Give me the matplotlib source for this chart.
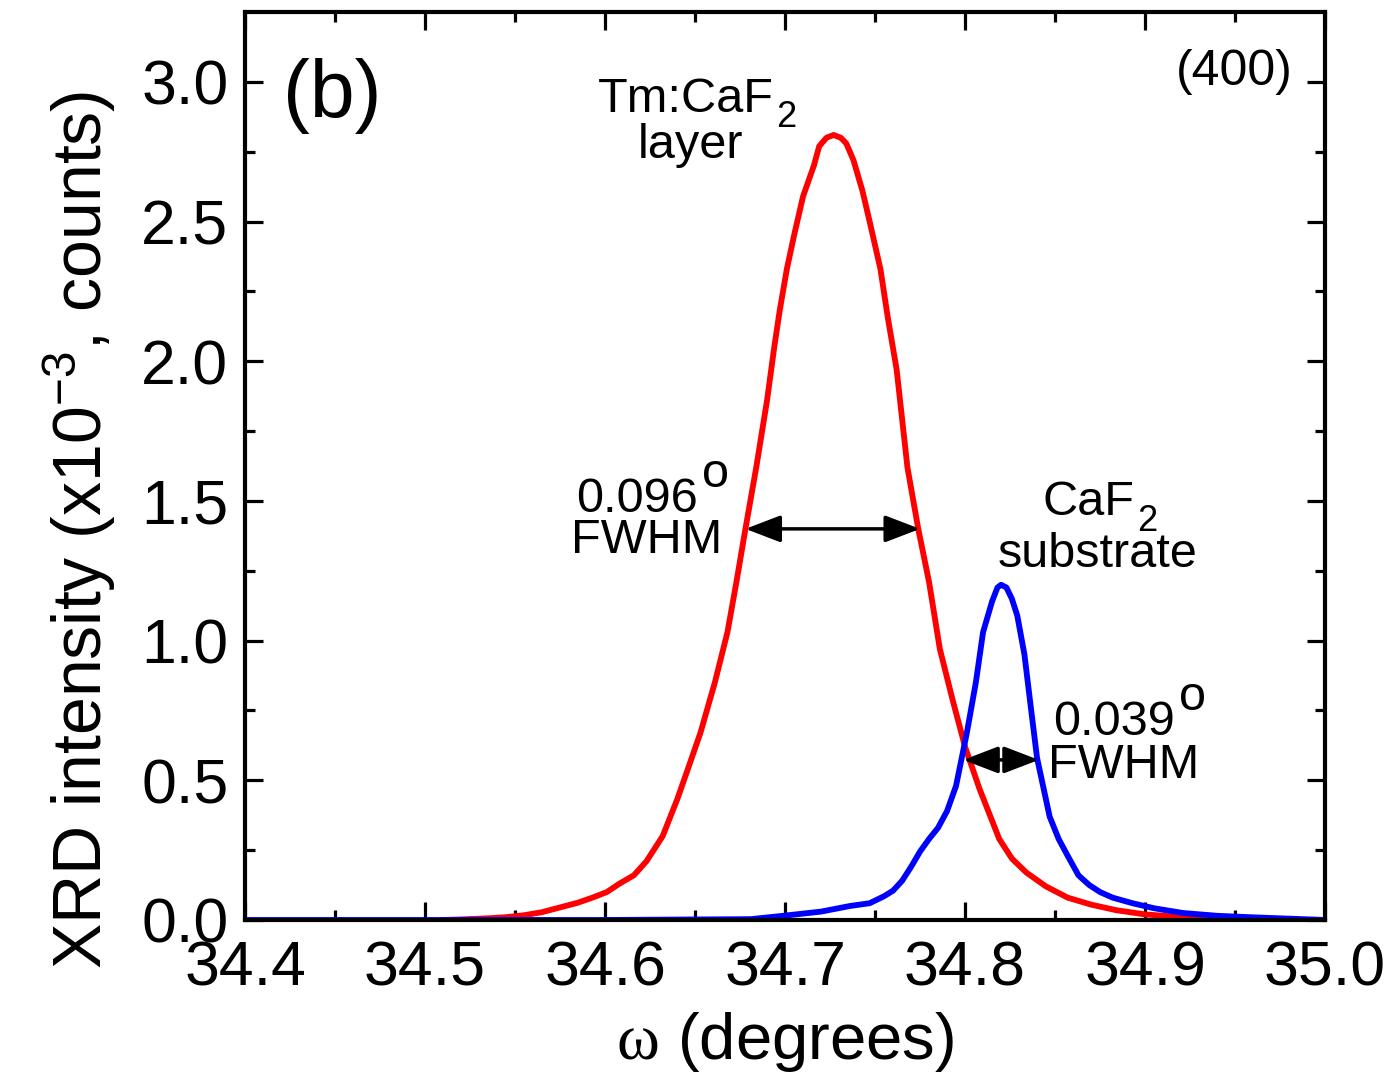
import matplotlib
matplotlib.use("Agg")
import matplotlib.pyplot as plt
import numpy as np

plt.rcParams['font.family'] = ['Liberation Sans', 'DejaVu Sans']
plt.rcParams['mathtext.fontset'] = 'custom'
plt.rcParams['mathtext.rm'] = 'Liberation Serif'
plt.rcParams['mathtext.sf'] = 'Liberation Sans'
plt.rcParams['mathtext.it'] = 'Liberation Sans:italic'

# Tm:CaF2 layer (courbe rouge)
layer_omega = [34.51, 34.52, 34.535, 34.545, 34.555, 34.565, 34.575, 34.585, 34.593, 34.601,
               34.608, 34.616, 34.623, 34.632, 34.640, 34.646, 34.653, 34.661, 34.668, 34.673,
               34.678, 34.684, 34.690, 34.694, 34.697, 34.701, 34.705, 34.710, 34.716, 34.719,
               34.723, 34.727, 34.731, 34.734, 34.738, 34.743, 34.747, 34.753, 34.757, 34.762,
               34.768, 34.774, 34.780, 34.786, 34.793, 34.800, 34.808, 34.819, 34.826, 34.834,
               34.845, 34.857, 34.870, 34.884, 34.900, 34.921, 34.94]
layer_int = [0.0, 0.002, 0.006, 0.01, 0.017, 0.028, 0.045, 0.062, 0.08, 0.10,
             0.13, 0.16, 0.21, 0.30, 0.43, 0.54, 0.67, 0.85, 1.03, 1.21,
             1.40, 1.62, 1.86, 2.05, 2.18, 2.33, 2.45, 2.59, 2.70, 2.77,
             2.80, 2.81, 2.80, 2.78, 2.72, 2.61, 2.50, 2.33, 2.16, 1.97,
             1.62, 1.40, 1.21, 0.97, 0.79, 0.62, 0.47, 0.29, 0.22, 0.17,
             0.12, 0.08, 0.055, 0.035, 0.02, 0.01, 0.0]

# CaF2 substrate (courbe bleue)
sub_omega = [34.4, 34.6, 34.681, 34.699, 34.72, 34.736, 34.747, 34.755, 34.760, 34.765,
             34.770, 34.775, 34.780, 34.785, 34.790, 34.795, 34.801, 34.806, 34.810, 34.815,
             34.818, 34.820, 34.823, 34.826, 34.829, 34.833, 34.836, 34.840, 34.844, 34.847,
             34.852, 34.857, 34.863, 34.869, 34.875, 34.882, 34.893, 34.905, 34.921, 34.940,
             34.958, 35.0]
sub_int = [0.0, 0.0, 0.003, 0.015, 0.03, 0.05, 0.06, 0.085, 0.105, 0.14,
           0.19, 0.245, 0.29, 0.33, 0.39, 0.48, 0.67, 0.85, 1.03, 1.14,
           1.19, 1.20, 1.19, 1.15, 1.09, 0.95, 0.79, 0.58, 0.46, 0.37,
           0.29, 0.23, 0.16, 0.125, 0.10, 0.08, 0.06, 0.042, 0.025, 0.015,
           0.01, 0.0]

xticks = [34.4, 34.5, 34.6, 34.7, 34.8, 34.9, 35.0]
yticks = [0.0, 0.5, 1.0, 1.5, 2.0, 2.5, 3.0]

fig = plt.figure(figsize=(13.97, 10.75), dpi=100)
ax = fig.add_axes([0.1754, 0.1442, 0.7731, 0.8446])

ax.plot(layer_omega, layer_int, color='#ff0000', lw=4.2, solid_joinstyle='round')
ax.plot(sub_omega, sub_int, color='#0000ff', lw=4.2, solid_joinstyle='round')

ax.set_xlim(34.4, 35.0)
ax.set_ylim(0, 3.25)
ax.set_xticks(xticks)
ax.set_yticks(yticks)
ax.set_xticklabels([f"{v:.1f}" for v in xticks])
ax.set_yticklabels([f"{v:.1f}" for v in yticks])
ax.set_xticks(np.arange(34.45, 35.0, 0.1), minor=True)
ax.set_yticks(np.arange(0.25, 3.25, 0.5), minor=True)

ax.tick_params(which='both', direction='in', top=True, right=True, width=2.3)
ax.tick_params(which='major', length=13, labelsize=45)
ax.tick_params(axis='x', which='major', pad=14)
ax.tick_params(axis='y', which='major', pad=12)
ax.tick_params(which='minor', length=7)
for s in ax.spines.values():
    s.set_linewidth(3.0)

ax.set_xlabel(r"$\mathrm{\omega}$ (degrees)", fontsize=47, labelpad=8)
ax.set_ylabel(r"XRD intensity (x10$^{\mathsf{-3}}$, counts)", fontsize=49)
ax.yaxis.set_label_coords(-0.118, 0.43)

FS = 35


def label(x, y, s, sub=None, sup=None):
    t = ax.text(x, y, s, fontsize=FS, ha='left', va='baseline')
    if sub:
        ax.annotate(sub, xy=(1, 0), xycoords=t, xytext=(2, -4), textcoords='offset points',
                    fontsize=26, ha='left', va='baseline')
    if sup:
        ax.annotate(sup, xy=(1, 1), xycoords=t, xytext=(3, 18), textcoords='offset points',
                    fontsize=FS, ha='left', va='top')
    return t


ax.text(34.421, 2.875, "(b)", fontsize=58, ha='left', va='baseline')
ax.text(34.982, 2.99, "(400)", fontsize=36, ha='right', va='baseline')
label(34.596, 2.893, "Tm:CaF", sub="2")
label(34.618, 2.728, "layer")
label(34.584, 1.461, "0.096", sup="o")
label(34.581, 1.314, "FWHM")
label(34.843, 1.449, "CaF", sub="2")
label(34.818, 1.262, "substrate")
label(34.849, 0.662, "0.039", sup="o")
label(34.846, 0.508, "FWHM")

# FWHM arrows
arrow = dict(arrowstyle='<|-|>,head_length=0.6,head_width=0.23', color='black', lw=2.5,
             mutation_scale=36, shrinkA=0, shrinkB=0)
ax.annotate("", xy=(34.678, 1.40), xytext=(34.775, 1.40), arrowprops=arrow)
ax.annotate("", xy=(34.799, 0.573), xytext=(34.841, 0.573), arrowprops=arrow)

fig.savefig("out.png", dpi=100)
